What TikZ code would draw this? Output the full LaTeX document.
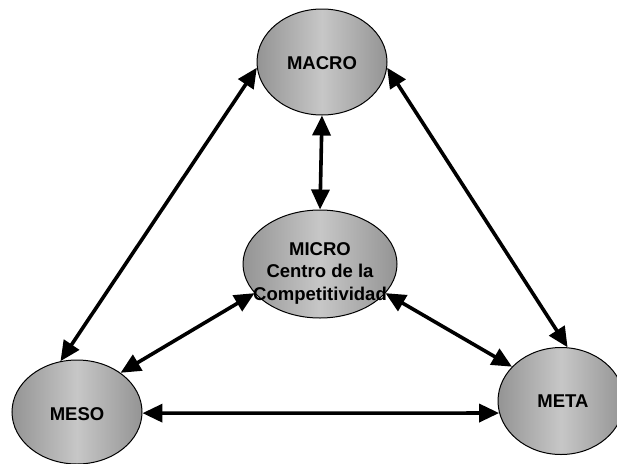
\documentclass[tikz,border=0pt]{standalone}
\usepackage{fontspec}
\setmainfont{Liberation Sans}
\usetikzlibrary{shapes.geometric,arrows.meta}
\begin{document}
\begin{tikzpicture}[x=1pt,y=-1pt,
  blob/.style={ellipse,draw=black,line width=1pt,inner sep=0pt,
    left color=black!42,right color=black!42,middle color=black!22},
  lbl/.style={font=\bfseries\fontsize{18.5}{22.5}\selectfont,align=center,inner sep=0pt},
  link/.style={line width=3.6pt,{Triangle[length=20pt,width=18pt]}-{Triangle[length=20pt,width=18pt]}}]
\useasboundingbox (0,0) rectangle (617,463);
\node[blob,minimum width=130pt,minimum height=106pt] (macro) at (322,62) {};
\node[blob,minimum width=154pt,minimum height=108pt] (micro) at (320,264) {};
\node[blob,minimum width=130pt,minimum height=104pt] (meso) at (77,412) {};
\node[blob,minimum width=126pt,minimum height=107pt] (meta) at (561,401) {};
\node[lbl] (tmacro) at (322,63) {MACRO};
\node[lbl] (tmicro) at (320,273) {MICRO\\Centro de la\\Competitividad};
\node[lbl] (tmeso) at (77,414) {MESO};
\node[lbl] (tmeta) at (563,401) {META};
\draw[link] (macro.south) -- (micro.north);
\draw[link] (macro.185) -- (meso.108);
\draw[link] (macro.-5) -- (meta.83);
\draw[link] (micro.204) -- (meso.42);
\draw[link] (micro.336) -- (meta.145);
\draw[link] (meso.-1) -- (meta.191);
\end{tikzpicture}
\end{document}
